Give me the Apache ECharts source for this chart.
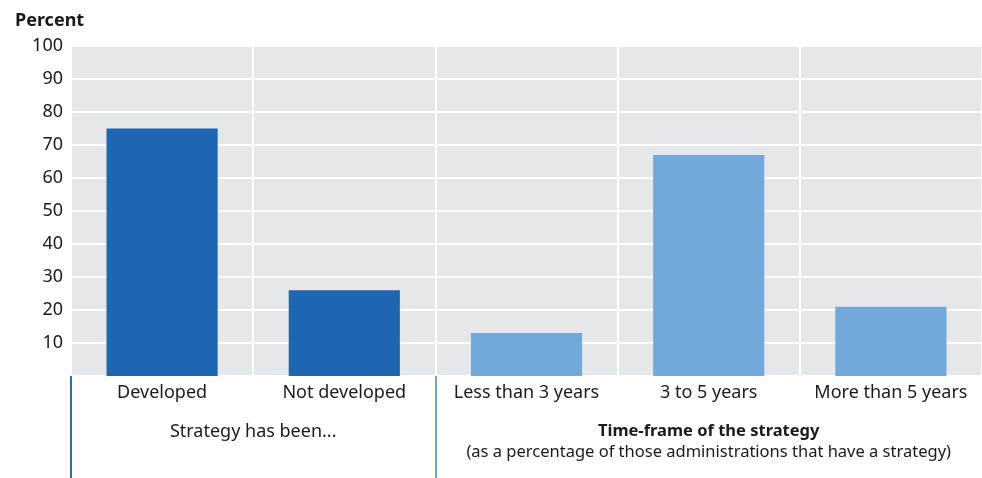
<!DOCTYPE html>
<html>
<head>
<meta charset="utf-8">
<script src="https://cdn.jsdelivr.net/npm/echarts@6/dist/echarts.min.js"></script>
<style>
  html, body { margin: 0; padding: 0; background: #fff; }
  #chart { width: 982px; height: 478px; }
</style>
</head>
<body>
<div id="chart"></div>
<script>
// 数据
var categories = ['Developed', 'Not developed', 'Less than 3 years', '3 to 5 years', 'More than 5 years']
var values = [75, 26, 13, 67, 21]
var barColors = ['#1f66b1', '#1f66b1', '#73a8da', '#73a8da', '#73a8da']
var groupLabels = ['Strategy has been...', 'Time-frame of the strategy', '(as a percentage of those administrations that have a strategy)']
var groupCenters = [1, 3.5] // 在 0..5 的刻度上
var yTicks = [0, 10, 20, 30, 40, 50, 60, 70, 80, 90, 100]

var font = 'Noto Sans'
var textColor = '#1a1a1a'

var option = {
    animation: false,
    title: {
        text: 'Percent',
        left: 10,
        top: 7,
        textStyle: { fontFamily: font, fontSize: 18, fontWeight: 'bold', color: textColor }
    },
    grid: {
        left: 71,
        right: 0,
        top: 46,
        bottom: 102,
        show: true,
        backgroundColor: '#e6e7e9',
        borderWidth: 0
    },
    xAxis: [
        {
            type: 'category',
            data: categories,
            axisLine: { show: false },
            axisTick: { show: false },
            splitLine: { show: true, lineStyle: { color: '#ffffff', width: 2 } },
            axisLabel: { fontFamily: font, fontSize: 18, color: textColor, margin: 8, interval: 0 }
        },
        {
            // 左侧分隔线 + 分组标签
            type: 'value',
            min: 0,
            max: 5,
            position: 'bottom',
            offset: 0,
            axisLine: { show: false },
            splitLine: { show: false },
            axisTick: {
                show: true,
                customValues: [0],
                length: 104,
                lineStyle: { color: '#2e6db4', width: 2 }
            },
            axisLabel: {
                show: true,
                customValues: groupCenters,
                margin: 45,
                formatter: function (v) {
                    if (v === groupCenters[0]) return '{n|' + groupLabels[0] + '}'
                    return '{b|' + groupLabels[1] + '}\n{s|' + groupLabels[2] + '}'
                },
                rich: {
                    n: { fontFamily: font, fontSize: 18, color: textColor, lineHeight: 21 },
                    b: { fontFamily: font, fontSize: 16.5, fontWeight: 'bold', color: textColor, lineHeight: 21 },
                    s: { fontFamily: font, fontSize: 16.5, color: textColor, lineHeight: 21 }
                }
            }
        },
        {
            // 右侧分隔线
            type: 'value',
            min: 0,
            max: 5,
            position: 'bottom',
            offset: 0,
            axisLine: { show: false },
            splitLine: { show: false },
            axisLabel: { show: false },
            axisTick: {
                show: true,
                customValues: [2],
                length: 104,
                lineStyle: { color: '#72a3d8', width: 2 }
            }
        }
    ],
    yAxis: {
        type: 'value',
        min: yTicks[0],
        max: yTicks[yTicks.length - 1],
        interval: 10,
        axisLine: { show: false },
        axisTick: { show: false },
        splitLine: { show: true, lineStyle: { color: '#ffffff', width: 2 } },
        axisLabel: {
            showMinLabel: false,
            fontFamily: font,
            fontSize: 18,
            color: textColor,
            margin: 8,
            padding: [10, 0, 0, 0]
        }
    },
    series: [
        {
            type: 'bar',
            barWidth: '61%',
            data: values.map(function (v, i) {
                return { value: v, itemStyle: { color: barColors[i] } }
            })
        }
    ]
}

var chart = echarts.init(document.getElementById('chart'))
chart.setOption(option)
</script>
</body>
</html>
